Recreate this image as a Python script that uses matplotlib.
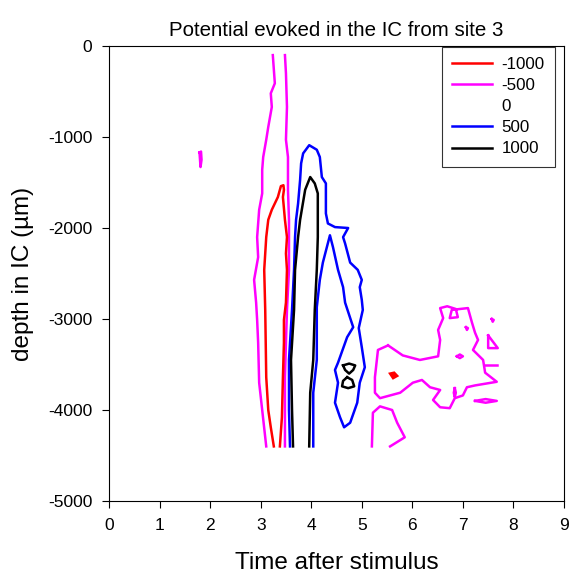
import matplotlib
matplotlib.use("Agg")
from matplotlib import pyplot as plt
from matplotlib.lines import Line2D

plt.rcParams['font.family'] = ['Liberation Sans', 'DejaVu Sans']
plt.rcParams['axes.unicode_minus'] = False

# contour levels and their colours
levels = [-1000, -500, 0, 500, 1000]
level_colors = ['#ff0000', '#ff00ff', 'none', '#0000ff', '#000000']

# traced contour lines (time, depth in um)
# -500 level
m_left_t = [3.24, 3.28, 3.20, 3.22, 3.15, 3.11, 3.05, 3.03, 3.03, 2.97, 2.93, 2.95, 2.87, 2.91, 2.93, 2.95, 2.97, 3.03, 3.11]
m_left_d = [-100, -410, -520, -670, -890, -1030, -1220, -1360, -1620, -1800, -2100, -2320, -2570, -2820, -3010, -3260, -3700, -4000, -4400]
m_right_t = [3.48, 3.50, 3.52, 3.50, 3.54, 3.54, 3.54, 3.56, 3.56, 3.56, 3.52, 3.50, 3.48, 3.48]
m_right_d = [-100, -300, -670, -1030, -1220, -1360, -1580, -1910, -2100, -2460, -2900, -3260, -3640, -4400]
m_dot_t = [1.79, 1.82, 1.83, 1.81, 1.79]
m_dot_d = [-1170, -1160, -1250, -1330, -1170]
m_blob_t = [5.52, 5.81, 6.15, 6.51, 6.55, 6.51, 6.61, 6.55, 6.69, 6.86, 6.90, 6.74, 6.78, 7.10, 7.18, 7.24, 7.30, 7.20,
            7.40, 7.44, 7.67, 7.24, 7.08, 7.00, 6.84, 6.74, 6.55, 6.41, 6.55, 6.35, 6.19, 6.01, 5.76, 5.36, 5.26, 5.26, 5.32, 5.52]
m_blob_d = [-3290, -3400, -3450, -3410, -3230, -3120, -2990, -2880, -2860, -2890, -2980, -2990, -2900, -2880, -3040, -3150, -3230, -3340,
            -3450, -3590, -3690, -3730, -3750, -3840, -3870, -3980, -3970, -3890, -3780, -3750, -3670, -3700, -3810, -3870, -3810, -3640, -3340, -3290]
m_arc_t = [5.20, 5.22, 5.36, 5.60, 5.70, 5.85, 5.56]
m_arc_d = [-4400, -4030, -3960, -4000, -4140, -4300, -4400]
m_bits_t = [[7.57, 7.61, 7.59, 7.57], [7.06, 7.10, 7.08, 7.06], [7.50, 7.69, 7.50, 7.50], [6.88, 6.94, 7.00, 6.94, 6.88],
            [7.44, 7.67], [6.84, 6.86, 6.84, 6.82, 6.84], [7.24, 7.45, 7.67, 7.45, 7.24]]
m_bits_d = [[-3000, -3010, -3030, -3000], [-3090, -3100, -3120, -3090], [-3180, -3320, -3320, -3180], [-3410, -3390, -3410, -3430, -3410],
            [-3510, -3510], [-3760, -3810, -3860, -3810, -3760], [-3900, -3880, -3900, -3920, -3900]]

# -1000 level
r_main_t = [3.26, 3.20, 3.15, 3.11, 3.09, 3.07, 3.11, 3.15, 3.22, 3.34, 3.40, 3.45, 3.46, 3.44, 3.48, 3.52, 3.50, 3.52, 3.50, 3.46, 3.46, 3.44, 3.42, 3.38]
r_main_d = [-4400, -4190, -4000, -3640, -2900, -2460, -2100, -1910, -1800, -1660, -1540, -1530, -1580, -1660, -1910, -2100, -2280, -2460, -2820, -3010, -3260, -3640, -4080, -4400]
r_dot_t = [5.56, 5.64, 5.70, 5.62, 5.56]
r_dot_d = [-3600, -3590, -3625, -3650, -3600]

# 500 level
b_main_t = [3.58, 3.56, 3.56, 3.62, 3.66, 3.68, 3.70, 3.74, 3.78, 3.80, 3.84, 3.96, 4.11, 4.17, 4.21, 4.29, 4.29, 4.33,
            4.47, 4.73, 4.63, 4.67, 4.77, 4.92, 5.00, 4.96, 5.00, 5.02, 4.94, 5.00, 5.06, 4.96, 4.91, 4.77, 4.65,
            4.57, 4.47, 4.53, 4.47, 4.53, 4.71, 4.83, 4.67, 4.63, 4.53, 4.43, 4.37, 4.23, 4.17, 4.11, 4.11, 4.04, 4.04]
b_main_d = [-4400, -4000, -3450, -2900, -2460, -2100, -1910, -1730, -1470, -1290, -1180, -1090, -1140, -1220, -1440, -1510, -1840, -1950,
            -1990, -2000, -2100, -2170, -2380, -2460, -2570, -2650, -2790, -2900, -3100, -3310, -3530, -3700, -3920, -4140, -4190,
            -4080, -3920, -3700, -3560, -3480, -3200, -3090, -2820, -2650, -2460, -2210, -2080, -2380, -2570, -2870, -3450, -3810, -4400]

# 1000 level
k_main_t = [3.64, 3.62, 3.60, 3.66, 3.68, 3.74, 3.78, 3.88, 3.98, 4.07, 4.13, 4.13, 4.11, 4.07, 4.04, 3.98, 3.96]
k_main_d = [-4400, -4000, -3450, -2900, -2460, -2100, -1910, -1580, -1440, -1510, -1620, -2100, -2460, -2900, -3450, -3810, -4400]
k_up_t = [4.63, 4.75, 4.87, 4.83, 4.75, 4.67, 4.63]
k_up_d = [-3510, -3490, -3510, -3560, -3600, -3560, -3510]
k_lo_t = [4.71, 4.81, 4.85, 4.73, 4.61, 4.63, 4.71]
k_lo_d = [-3640, -3670, -3740, -3760, -3740, -3680, -3640]

fig = plt.figure(figsize=(5.69, 5.81), dpi=100)
ax = fig.add_axes([0.1916, 0.1377, 0.7996, 0.7831])

lw = 1.8
magenta, red, blue, black = level_colors[1], level_colors[0], level_colors[3], level_colors[4]
for t, d in [(m_left_t, m_left_d), (m_right_t, m_right_d), (m_dot_t, m_dot_d), (m_blob_t, m_blob_d), (m_arc_t, m_arc_d)]:
    ax.plot(t, d, color=magenta, lw=lw)
for t, d in zip(m_bits_t, m_bits_d):
    ax.plot(t, d, color=magenta, lw=lw)
ax.plot(r_main_t, r_main_d, color=red, lw=lw)
ax.fill(r_dot_t, r_dot_d, color=red, lw=lw)
ax.plot(b_main_t, b_main_d, color=blue, lw=lw)
for t, d in [(k_main_t, k_main_d), (k_up_t, k_up_d), (k_lo_t, k_lo_d)]:
    ax.plot(t, d, color=black, lw=lw)

ax.set_xlim(0, 9)
ax.set_ylim(-5000, 0)
ax.set_xticks(range(0, 10))
ax.set_yticks(range(-5000, 1, 1000))
ax.tick_params(direction='out', length=5, labelsize=12.5, top=False, right=False, pad=7)
ax.set_xlabel("Time after stimulus", fontsize=17.5, labelpad=14)
ax.set_ylabel("depth in IC (µm)", fontsize=17.5, labelpad=10)
ax.set_title("Potential evoked in the IC from site 3", fontsize=14.8, pad=7)

handles = []
for lev, c in zip(levels, level_colors):
    if c == 'none':
        handles.append(Line2D([], [], linestyle='none'))
    else:
        handles.append(Line2D([], [], color=c, lw=lw))
leg = ax.legend(handles, [str(v) for v in levels], loc='upper left', bbox_to_anchor=(0.732, 0.998),
                fontsize=12.2, frameon=True, fancybox=False, handlelength=2.35, handletextpad=0.55,
                labelspacing=0.36, borderpad=0.6, borderaxespad=0)
leg.get_frame().set_edgecolor('black')
leg.get_frame().set_linewidth(0.8)

fig.savefig("out.png", dpi=100)
